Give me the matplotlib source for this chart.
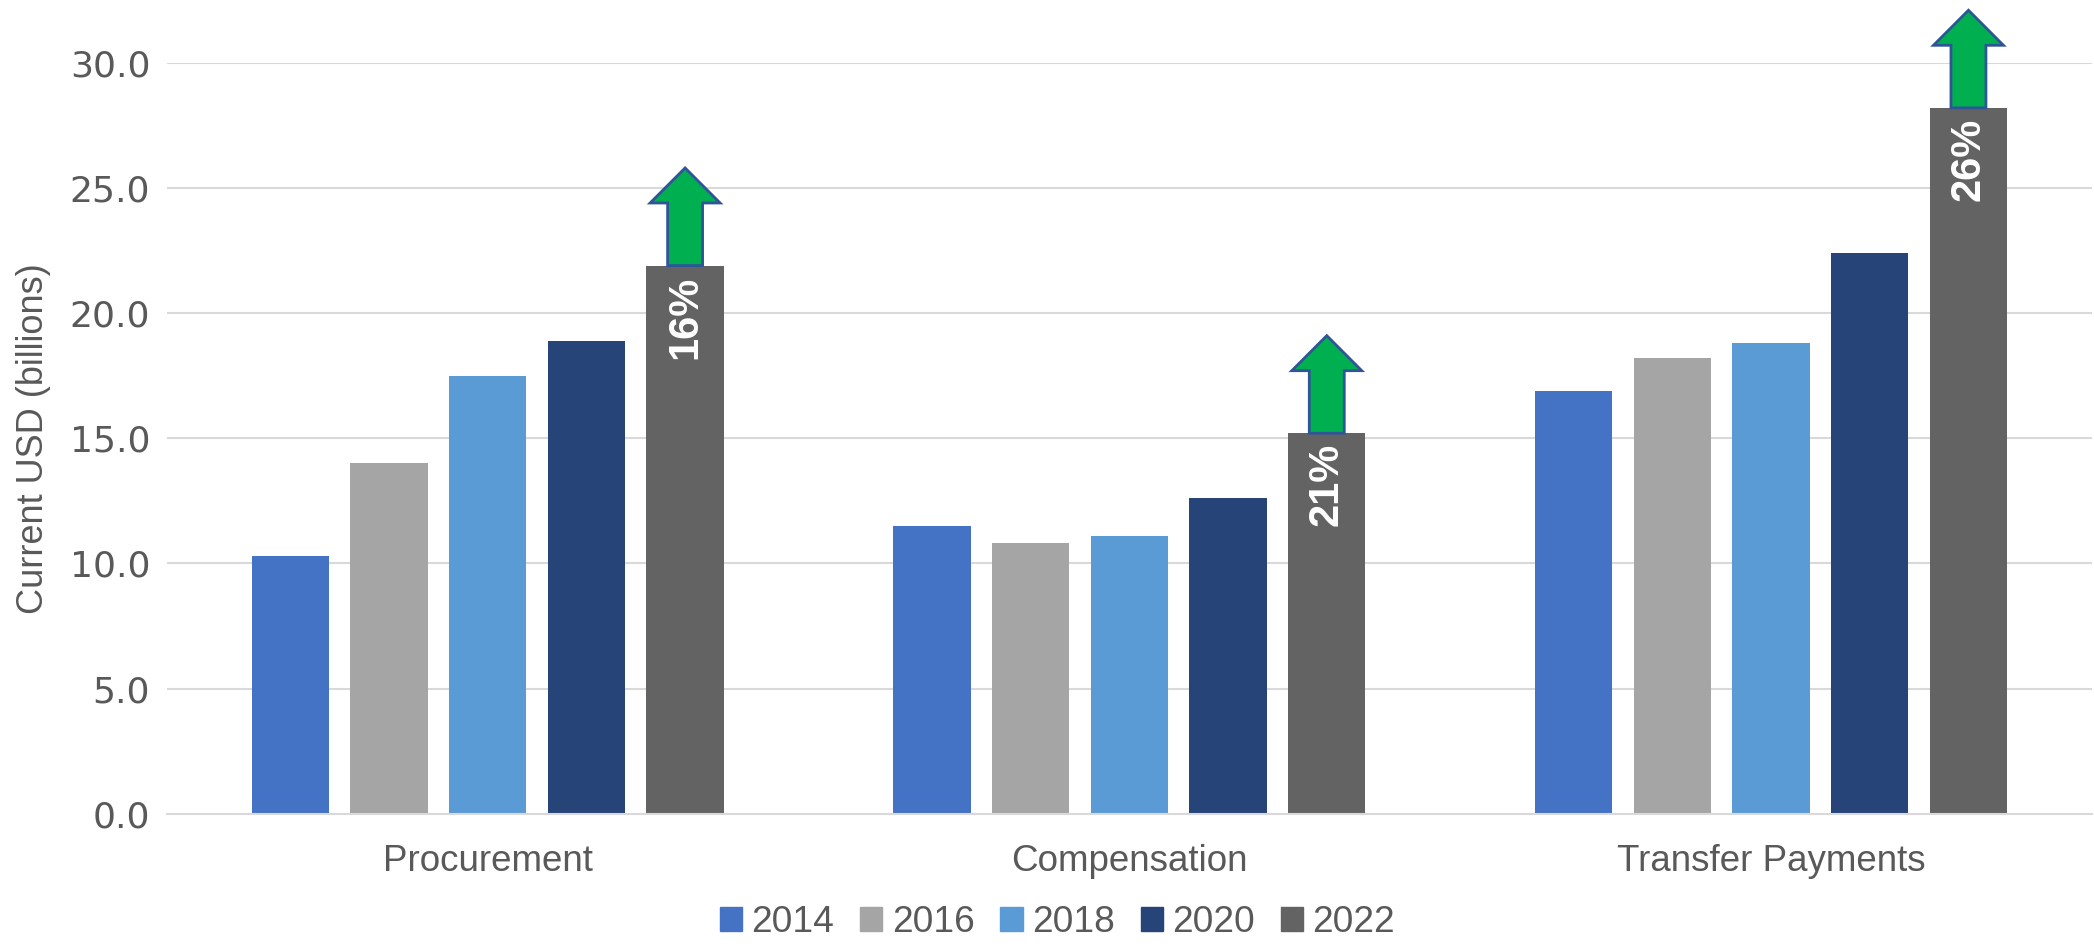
import numpy as np
import matplotlib
matplotlib.use('Agg')
import matplotlib.pyplot as plt
from matplotlib.patches import FancyArrow, Rectangle

plt.rcParams['font.family'] = ['Liberation Sans', 'DejaVu Sans']

# data
categories = ['Procurement', 'Compensation', 'Transfer Payments']
years = ['2014', '2016', '2018', '2020', '2022']
values = {
    '2014': [10.3, 11.5, 16.9],
    '2016': [14.0, 10.8, 18.2],
    '2018': [17.5, 11.1, 18.8],
    '2020': [18.9, 12.6, 22.4],
    '2022': [21.9, 15.2, 28.2],
}
growth_labels = ['16%', '21%', '26%']
colors = ['#4472C4', '#A5A5A5', '#5B9BD5', '#264478', '#636363']
text_color = '#595959'

fig = plt.figure(figsize=(20.94, 9.46), dpi=100)
ax = fig.add_axes([0.0797, 0.1398, 0.9193, 0.7938])

x = np.arange(len(categories))
step = 0.1538
width = 0.1206
for i, yr in enumerate(years):
    ax.bar(x + (i - 2) * step, values[yr], width, color=colors[i], zorder=2, label=yr)

# growth arrows + labels on the 2022 bars
last = values['2022']
for j in range(len(categories)):
    xc = x[j] + 2 * step
    arr = FancyArrow(xc, last[j], 0, 3.9, width=0.0545, head_width=0.109,
                     head_length=1.4, length_includes_head=True,
                     facecolor='#00B050', edgecolor='#2F5597', linewidth=2,
                     zorder=3, clip_on=False)
    ax.add_patch(arr)
    ax.annotate(growth_labels[j], (xc, last[j]), xytext=(0, -7),
                textcoords='offset points', rotation=90, ha='center', va='top',
                color='white', fontsize=30, fontweight='bold', zorder=4)

ax.set_xlim(-0.5, 2.5)
ax.set_ylim(0, 30)
ax.set_yticks(np.arange(0, 31, 5))
ax.set_yticklabels(['%.1f' % v for v in np.arange(0, 31, 5)], family='DejaVu Sans')
ax.set_xticks(x)
ax.set_xticklabels(categories)
ax.tick_params(axis='y', length=0, pad=12, labelsize=26, labelcolor=text_color)
ax.tick_params(axis='x', length=0, pad=22, labelsize=26.5, labelcolor=text_color)
ax.grid(axis='y', color='#D9D9D9', linewidth=1.5, zorder=0)
for s in ['top', 'right', 'left']:
    ax.spines[s].set_visible(False)
ax.spines['bottom'].set_color('#D9D9D9')
ax.spines['bottom'].set_linewidth(1.5)

ax.set_ylabel('Current USD (billions)', fontsize=26, color=text_color)
ax.yaxis.set_label_coords(-0.06, 0.5)

handles = [Rectangle((0, 0), 1, 1, color=c) for c in colors]
fig.legend(handles, years, loc='center', bbox_to_anchor=(0.505, 0.025),
           ncol=5, frameon=False, fontsize=26.7, labelcolor=text_color,
           handlelength=0.6, handleheight=0.6, handletextpad=0.25,
           columnspacing=0.7)

fig.savefig('out.png', dpi=100)
